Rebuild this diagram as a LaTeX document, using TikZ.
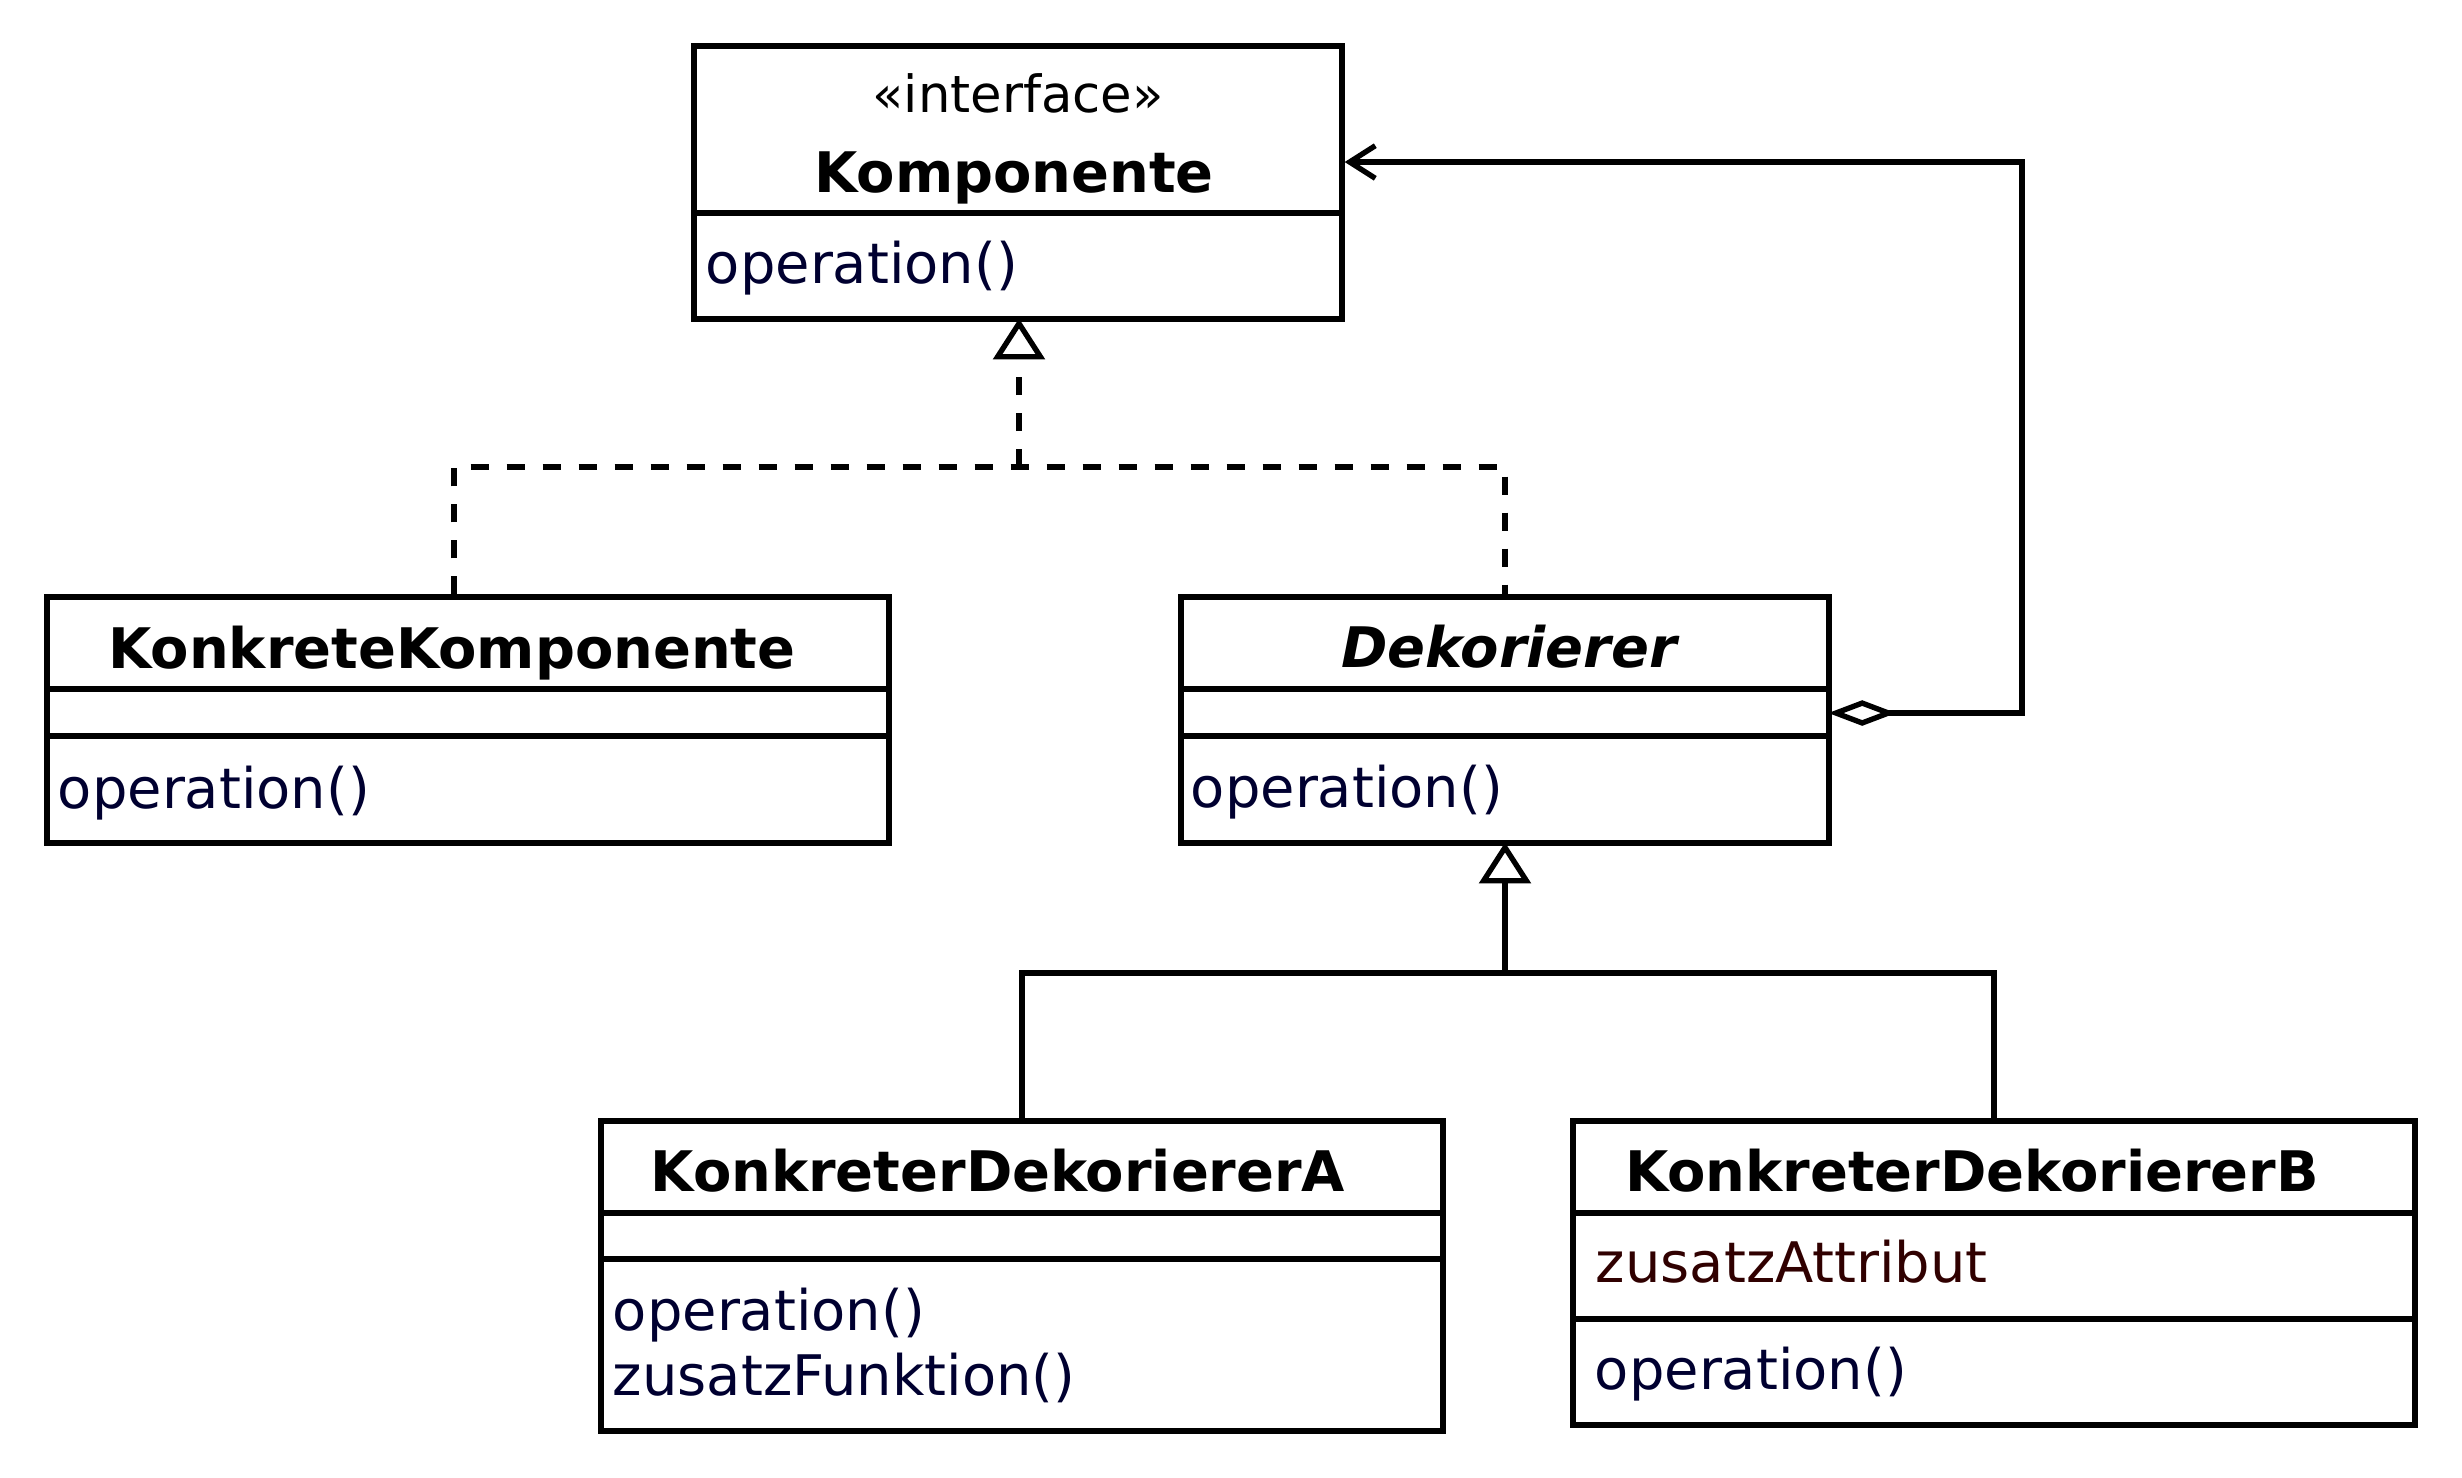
\documentclass[tikz,border=0pt]{standalone}
\usepackage{fontspec}
\setmainfont{DejaVu Sans}
\usetikzlibrary{arrows.meta}

\newlength\px
\setlength\px{0.2147pt}
\definecolor{opcolor}{HTML}{000030}
\definecolor{attrcolor}{HTML}{300000}

\tikzset{
  classbox/.style 2 args={draw, line width=1.15pt, inner sep=0pt, minimum width=#1\px, minimum height=#2\px},
  sepline/.style={line width=1.15pt},
  classname/.style={anchor=base, inner sep=0pt, font=\fontsize{12}{14}\selectfont\bfseries},
  stereo/.style={anchor=base, inner sep=0pt, font=\fontsize{11}{13}\selectfont},
  member/.style={anchor=base west, inner sep=0pt, font=\fontsize{12}{14}\selectfont, text=opcolor},
  attrib/.style={member, text=attrcolor},
  realize/.style={line width=1.15pt, dash pattern=on 18\px off 18\px},
  inherit/.style={line width=1.15pt, shorten >=-0.7pt, -{Triangle[open, length=8.8pt, width=11pt]}},
  aggr/.style={line width=1.15pt, shorten <=-0.7pt, {Diamond[open, length=14.5pt, width=5.5pt]}-{Straight Barb[length=5.5pt, width=7pt]}},
}

\begin{document}
\begin{tikzpicture}[x=\px, y=-\px]
    \useasboundingbox (0,0) rectangle (2462,1477);

    % Klassen
    \node[classbox={648}{273}] (komp) at (1018,182.5) {};
    \node[classbox={842}{246}] (kk)   at (468,720) {};
    \node[classbox={648}{246}] (dek)  at (1505,720) {};
    \node[classbox={842}{310}] (kda)  at (1022,1276) {};
    \node[classbox={842}{304}] (kdb)  at (1994,1273) {};

    % Trennlinien der Abschnitte
    \draw[sepline] (komp.west |- 0,213) -- (komp.east |- 0,213);
    \draw[sepline] (kk.west |- 0,689) -- (kk.east |- 0,689);
    \draw[sepline] (kk.west |- 0,736) -- (kk.east |- 0,736);
    \draw[sepline] (dek.west |- 0,689) -- (dek.east |- 0,689);
    \draw[sepline] (dek.west |- 0,736) -- (dek.east |- 0,736);
    \draw[sepline] (kda.west |- 0,1213) -- (kda.east |- 0,1213);
    \draw[sepline] (kda.west |- 0,1259) -- (kda.east |- 0,1259);
    \draw[sepline] (kdb.west |- 0,1213) -- (kdb.east |- 0,1213);
    \draw[sepline] (kdb.west |- 0,1319) -- (kdb.east |- 0,1319);

    % Namen
    \node[stereo] (kompster) at (1018,112) {«interface»};
    \node[classname] (kompname) at (1014,192) {Komponente};
    \node[classname] (kkname) at (452,668) {KonkreteKomponente};
    \node[classname] (dekname) at (1509,667) {\itshape Dekorierer};
    \node[classname] (kdaname) at (998,1191) {KonkreterDekoriererA};
    \node[classname] (kdbname) at (1972,1191) {KonkreterDekoriererB};

    % Attribute und Operationen
    \node[member] (kompop) at (705,283) {operation()};
    \node[member] (kkop) at (57,808) {operation()};
    \node[member] (dekop) at (1190,807) {operation()};
    \node[member] (kdaop) at (612,1330) {operation()};
    \node[member] (kdafn) at (612,1395) {zusatzFunktion()};
    \node[attrib] (kdbattr) at (1595,1282) {zusatzAttribut};
    \node[member] (kdbop) at (1594,1389) {operation()};

    % Realisierung
    \coordinate (rj) at (1019,467);
    \draw[realize] ([xshift=-14\px]kk.north) |- (rj) -| (dek.north);
    \draw[realize, inherit] (rj) -- (rj |- komp.south);

    % Vererbung
    \coordinate (gj) at (1505,973);
    \draw[inherit] (gj) -- (dek.south);
    \draw[line width=1.15pt] (kda.north) |- (gj) -| (kdb.north);

    % Aggregation
    \coordinate (ac1) at (2022,713);
    \coordinate (ac2) at (2022,162);
    \draw[aggr] (dek.east |- ac1) -- (ac1) -- (ac2) -- (komp.east |- ac2);
\end{tikzpicture}
\end{document}
